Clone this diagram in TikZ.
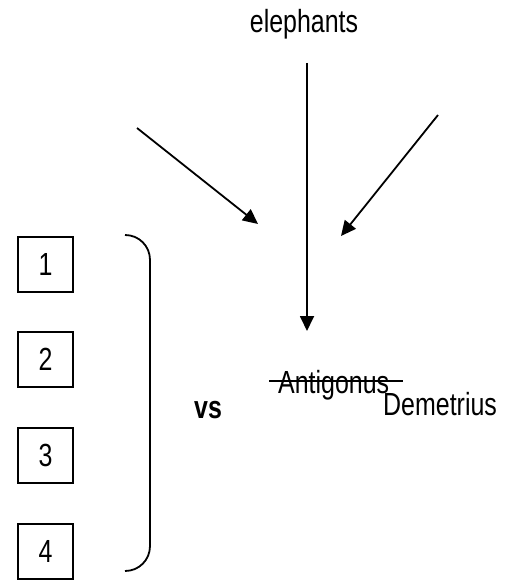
\documentclass[tikz,border=0pt]{standalone}
\usepackage{fontspec}
\setmainfont{Liberation Sans}[FakeStretch=0.78]
\usetikzlibrary{arrows.meta}
\begin{document}
\begin{tikzpicture}[x=1pt,y=-1pt,
  txt/.style={inner sep=0pt,font=\fontsize{32}{38}\selectfont},
  numbox/.style={draw,line width=2pt,minimum size=55pt,inner sep=0pt,font=\fontsize{32}{38}\selectfont},
  arr/.style={line width=1.8pt,-{Triangle[length=15pt,width=14pt]}},
  brk/.style={line width=1.8pt}]
\useasboundingbox (0,0) rectangle (508,580);
% top label and arrows
\node[txt,anchor=base] (eleph) at (304,33) {elephants};
\coordinate (vtop) at (307,63);
\coordinate (vtip) at (307,331);
\coordinate (lstart) at (137,128);
\coordinate (ltip) at (258,224);
\coordinate (rstart) at (438,115);
\coordinate (rtip) at (341,236);
\draw[arr] (vtop) -- (vtip);
\draw[arr] (lstart) -- (ltip);
\draw[arr] (rstart) -- (rtip);
% boxes
\node[numbox] (b1) at (45.5,264.5) {1};
\node[numbox] (b2) at (45.5,359.5) {2};
\node[numbox] (b3) at (45.5,455.5) {3};
\node[numbox] (b4) at (45.5,551.5) {4};
% bracket
\draw[brk] (125,235) .. controls (139,235) and (150,246) .. (150,260)
  -- (150,546) .. controls (150,560) and (139,571) .. (125,571);
% vs
\node[txt,anchor=base,font=\fontsize{32}{38}\selectfont\bfseries] (vs) at (208,418) {vs};
% names
\node[txt,anchor=base west] (ant) at (278,393) {Antigonus};
\draw[line width=1.5pt] (269,381) -- (403,381);
\node[txt,anchor=base west] (dem) at (383,415) {Demetrius};
\end{tikzpicture}
\end{document}
